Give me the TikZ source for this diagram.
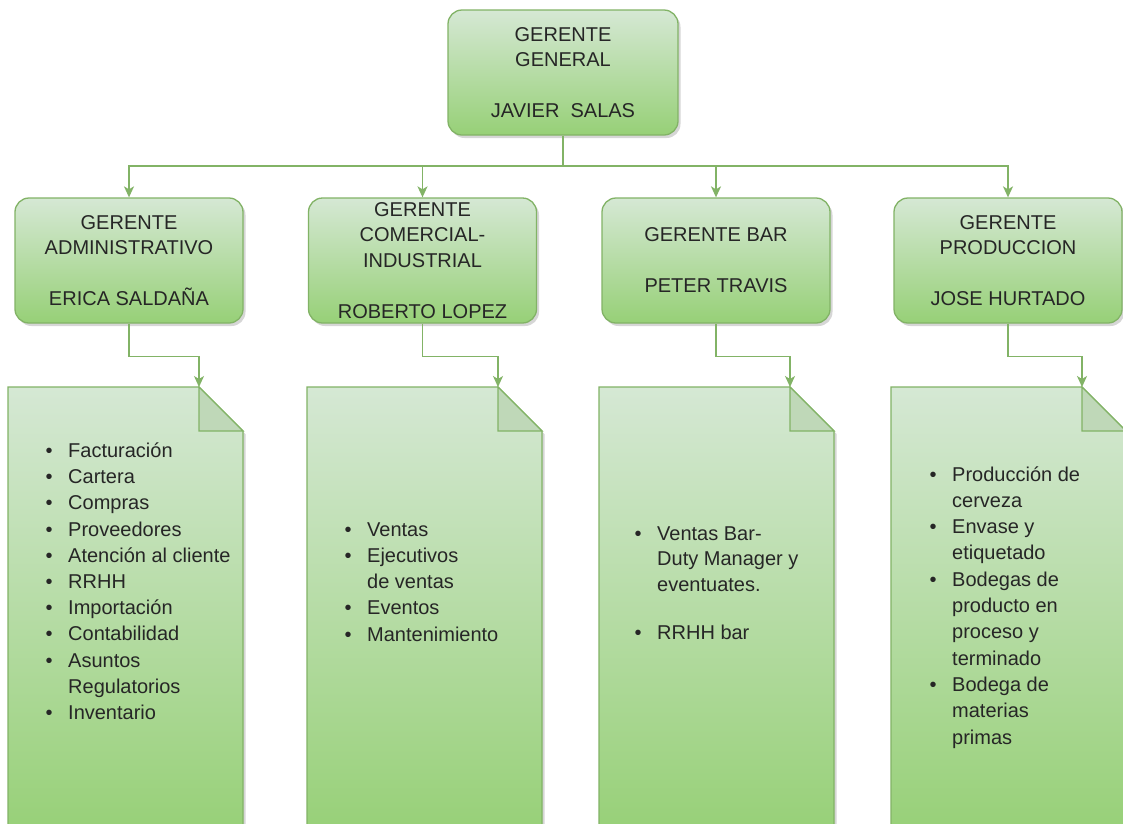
\documentclass[tikz,border=0pt]{standalone}
\usepackage{fontspec}
\setmainfont{Liberation Sans}
\usetikzlibrary{arrows.meta,shadows}

\definecolor{gtop}{HTML}{D5E8D4}
\definecolor{gbot}{HTML}{97D077}
\definecolor{gline}{HTML}{82B366}
\definecolor{gfold}{HTML}{BFD8B8}
\definecolor{ink}{HTML}{262626}

% bullet hanging to the left of an item's text
\newcommand\bul{\llap{\textbullet\hspace{15.5pt}}}

\tikzset{
  softshadow/.style={drop shadow={shadow xshift=2.5pt,shadow yshift=-3pt,opacity=.16,fill=black}},
  mgr/.style={draw=gline, line width=1.3pt, rounded corners=14pt,
    top color=gtop, bottom color=gbot, minimum width=228pt, minimum height=125pt,
    inner sep=0pt, align=center, text=ink, font=\fontsize{20}{25.5}\selectfont, softshadow},
  link/.style={draw=gline, line width=1.5pt},
  arrowlink/.style={link, -{Stealth[length=11pt,width=10pt,inset=3pt]}},
  notebody/.style={draw=gline, line width=1.3pt, top color=gtop, bottom color=gbot, softshadow},
  notefold/.style={draw=gline, line width=1.3pt, fill=gfold, line join=miter},
  item/.style={anchor=base west, inner sep=0pt, text=ink, font=\fontsize{20}{24}\selectfont},
}

% a note sheet with a folded top-right corner; #1 = left edge, #2 = name of the arrow target
\newcommand\notesheet[2]{%
  \path[notebody] (#1,-387) -- ({#1+191},-387) -- ({#1+235},-431) -- ({#1+235},-834) -- (#1,-834) -- cycle;
  \path[notefold] ({#1+191},-387) -- ({#1+191},-431) -- ({#1+235},-431) -- cycle;
  \coordinate (#2) at ({#1+191},-387);}

\begin{document}
\begin{tikzpicture}[x=1pt,y=1pt]
  \useasboundingbox[fill=white] (0,0) rectangle (1123,-823);

  % task sheets
  \notesheet{8}{t1}
  \notesheet{307}{t2}
  \notesheet{599}{t3}
  \notesheet{891}{t4}

  % managers
  \node[mgr, minimum width=230pt] (gg) at (563,-72.5) {GERENTE\\GENERAL\\[25.5pt]JAVIER\ \ SALAS};
  \node[mgr] (m1) at (129,-260.5) {GERENTE\\ADMINISTRATIVO\\[25.5pt]ERICA SALDAÑA};
  \node[mgr] (m2) at (422.5,-260.5) {GERENTE\\COMERCIAL-\\INDUSTRIAL\\[25.5pt]ROBERTO LOPEZ};
  \node[mgr] (m3) at (716,-260.5) {GERENTE BAR\\[25.5pt]PETER TRAVIS};
  \node[mgr] (m4) at (1008,-260.5) {GERENTE\\PRODUCCION\\[25.5pt]JOSE HURTADO};

  % general manager to area managers
  \coordinate (bus) at (563,-166);
  \draw[link] (gg.south) -- (bus);
  \foreach \m in {m1,m2,m3,m4}
    \draw[arrowlink] (bus) -| (\m.north);

  % area managers to their task sheets
  \foreach \m/\t in {m1/t1,m2/t2,m3/t3,m4/t4}
    \draw[arrowlink] (\m.south) -- ++(0,-33) -| (\t);

  % administrative tasks
  \foreach \txt [count=\i from 0] in {{\bul Facturación},{\bul Cartera},{\bul Compras},
      {\bul Proveedores},{\bul Atención al cliente},{\bul RRHH},{\bul Importación},
      {\bul Contabilidad},{\bul Asuntos},{Regulatorios},{\bul Inventario}}
    \node[item] (a\i) at (68,{-457.5-26.2*\i}) {\txt};

  % commercial tasks
  \foreach \txt [count=\i from 0] in {{\bul Ventas},{\bul Ejecutivos},{de ventas},
      {\bul Eventos},{\bul Mantenimiento}}
    \node[item] (c\i) at (367,{-536-26.25*\i}) {\txt};

  % bar tasks
  \node[item] (b0) at (657,-540) {\bul Ventas Bar-};
  \node[item] (b1) at (657,-565.5) {Duty Manager y};
  \node[item] (b2) at (657,-591) {eventuates.};
  \node[item] (b3) at (657,-639) {\bul RRHH bar};

  % production tasks
  \foreach \txt [count=\i from 0] in {{\bul Producción de},{cerveza},{\bul Envase y},
      {etiquetado},{\bul Bodegas de},{producto en},{proceso y},{terminado},
      {\bul Bodega de},{materias},{primas}}
    \node[item] (p\i) at (952,{-481-26.3*\i}) {\txt};
\end{tikzpicture}
\end{document}
